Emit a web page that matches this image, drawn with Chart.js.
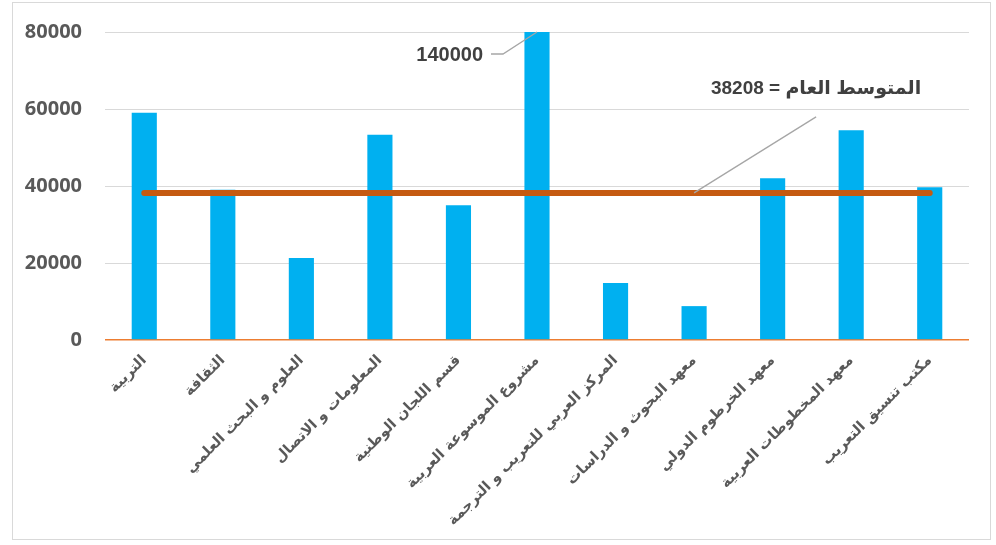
<!DOCTYPE html>
<html><head><meta charset="utf-8">
<script src="https://cdn.jsdelivr.net/npm/chart.js@4.4.1/dist/chart.umd.min.js"></script>
<style>html,body{margin:0;padding:0;background:#fff}#wrap{width:996px;height:545px;position:relative}</style>
</head><body><div id="wrap"><canvas id="c" width="996" height="545"></canvas></div>
<script>
const categories = ["التربية","الثقافة","العلوم و البحث العلمي","المعلومات و الاتصال","قسم اللجان الوطنية","مشروع الموسوعة العربية","المركز العربي للتعريب و الترجمة","معهد البحوث و الدراسات","معهد الخرطوم الدولي","معهد المخطوطات العربية","مكتب تنسيق التعريب"];
const values = [59000,39000,21300,53300,35000,140000,14800,8800,42000,54500,39700];
const meanLine = [38208,38208,38208,38208,38208,38208,38208,38208,38208,38208,38208];
const meanValue = 38208;
const yTicks = [0,20000,40000,60000,80000];
const peakLabel = "140000";
const meanLabel = "المتوسط العام = 38208";

const annot = {
  id:'annot',
  beforeDraw(chart){
    const ctx=chart.ctx; ctx.save();
    ctx.strokeStyle='#d9d9d9'; ctx.lineWidth=1;
    ctx.strokeRect(12.5,2.5,978,537);
    ctx.restore();
  },
  afterDatasetsDraw(chart){
    const ctx=chart.ctx, x=chart.scales.x, y=chart.scales.y;
    ctx.save();
    const px=x.getPixelForValue(5), py=y.getPixelForValue(80000);
    ctx.strokeStyle='#a6a6a6'; ctx.lineWidth=1.3;
    ctx.beginPath(); ctx.moveTo(px,py); ctx.lineTo(px-34,py+22); ctx.lineTo(px-46,py+22); ctx.stroke();
    ctx.fillStyle='#404040'; ctx.font='bold 20px "Liberation Sans", "DejaVu Sans", sans-serif';
    ctx.textAlign='right'; ctx.textBaseline='middle';
    ctx.fillText(peakLabel, px-54, py+23);
    const mx=x.getPixelForValue(7), my=y.getPixelForValue(meanValue);
    ctx.beginPath(); ctx.moveTo(mx,my); ctx.lineTo(mx+122,my-76); ctx.stroke();
    ctx.textAlign='center';
    ctx.font='bold 19px "Liberation Sans", "DejaVu Sans", sans-serif';
    ctx.fillText(meanLabel, mx+122, my-104);
    ctx.restore();
  }
};

new Chart(document.getElementById('c'),{
  data:{
    labels:categories,
    datasets:[
      {type:'line',data:meanLine,borderColor:'#C55A11',borderWidth:6,borderCapStyle:'round',pointRadius:0,order:0,fill:false},
      {type:'bar',data:values,backgroundColor:'#00B0F0',barPercentage:0.32,categoryPercentage:1,order:1}
    ]
  },
  options:{
    responsive:false,animation:false,devicePixelRatio:1,
    layout:{padding:{left:0,top:32,right:27,bottom:0}},
    plugins:{legend:{display:false},tooltip:{enabled:false}},
    scales:{
      x:{offset:true,grid:{display:false},border:{display:false},
        ticks:{maxRotation:45,minRotation:45,autoSkip:false,color:'#595959',padding:4,
          font:{family:'"DejaVu Sans", sans-serif',size:14.5,weight:'bold'}},
        afterFit(s){s.height=205;}},
      y:{min:0,max:80000,
        afterBuildTicks(s){s.ticks=yTicks.map(v=>({value:v}));},
        grid:{drawTicks:false,color:c=>c.tick.value===0?'#ED7D31':'#d9d9d9',lineWidth:c=>c.tick.value===0?1.5:1},
        border:{display:false},
        ticks:{padding:23,color:'#595959',font:{family:'"Open Sans", sans-serif',size:20,weight:'bold'},callback:v=>String(v)},
        afterFit(s){s.width=105;s.paddingTop=0;s.paddingBottom=0;}}
    }
  },
  plugins:[annot]
});
</script></body></html>
